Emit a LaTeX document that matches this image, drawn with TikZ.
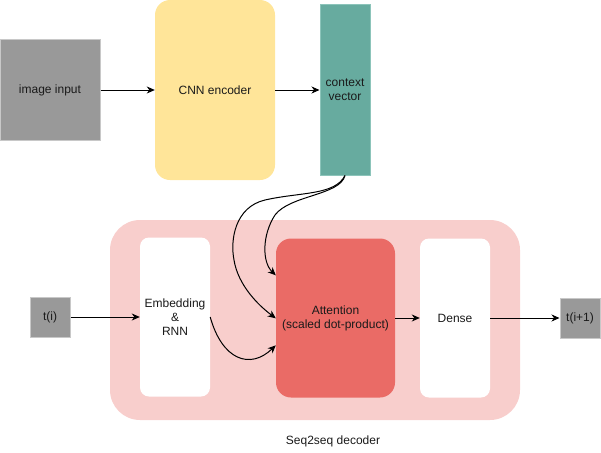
\documentclass[tikz,border=0pt]{standalone}
\usepackage{fontspec}
\setmainfont{Liberation Sans}
\usetikzlibrary{arrows.meta,calc}
\definecolor{boxgray}{HTML}{999999}
\definecolor{graystroke}{HTML}{C8C8C8}
\definecolor{cnnyellow}{HTML}{FFE599}
\definecolor{cvteal}{HTML}{67AB9F}
\definecolor{cvstroke}{HTML}{8CC4BA}
\definecolor{decpink}{HTML}{F8CECC}
\definecolor{attred}{HTML}{EA6B66}
\definecolor{txt}{HTML}{1A1A1A}
\tikzset{
  every node/.style={font=\fontsize{12pt}{14pt}\selectfont, text=txt, inner sep=0pt, align=center},
  graybox/.style={fill=boxgray, draw=graystroke, line width=1pt},
  conn/.style={line width=1pt, -{Stealth[length=8pt,width=7pt,inset=2.5pt]}},
}
\begin{document}
\begin{tikzpicture}[x=1pt,y=-1pt]
\useasboundingbox (0,0) rectangle (601,452);
% decoder background
\node[fill=decpink, rounded corners=30pt, minimum width=410pt, minimum height=200pt] (dec) at (315,320) {};
\node (declbl) at (333,441) {Seq2seq decoder};
% encoder part
\node[graybox, minimum width=100pt, minimum height=100pt] (img) at (50,90) {image input};
\node[fill=cnnyellow, rounded corners=15pt, minimum width=120pt, minimum height=180pt] (cnn) at (215,90) {CNN encoder};
\node[fill=cvteal, draw=cvstroke, line width=1pt, minimum width=50pt, minimum height=170pt] (cv) at (345,90) {context\\vector};
% decoder internals
\node[fill=white, rounded corners=9pt, minimum width=70pt, minimum height=159pt] (emb) at (175,317) {Embedding\\\&\\RNN};
\node[fill=attred, rounded corners=15pt, minimum width=119pt, minimum height=159pt] (att) at (335.5,318) {Attention\\(scaled dot-product)};
\node[fill=white, rounded corners=9pt, minimum width=70pt, minimum height=159pt] (dense) at (455,318) {Dense};
\node[graybox, minimum width=40pt, minimum height=40pt] (ti) at (50,317) {t(i)};
\node[graybox, minimum width=40pt, minimum height=40pt] (to) at (580,318) {t(i+1)};
% connectors
\draw[conn] (img.east) -- (cnn.west);
\draw[conn] (cnn.east) -- (cv.west);
\draw[conn] (ti.east) -- (emb.west |- ti.east);
\draw[conn] (att.east) -- (dense.west);
\draw[conn] (dense.east) -- (to.west);
\draw[conn] (cv.south) .. controls ($(cv.south)+(-5,20)$) and (290,195) .. (275,215)
   .. controls (262,235) and (262,262) .. ($(att.north west)+(0,37)$);
\draw[conn] (cv.south) .. controls ($(cv.south)+(-10,20)$) and (300,192) .. (265,200)
   .. controls (235,207) and (230,240) .. (234,260)
   .. controls (238,285) and (258,305) .. ($(att.north west)+(0,80)$);
\draw[conn] (emb.east) .. controls ($(emb.east)+(12,43)$) and (250,370) .. ($(att.north west)+(0,107)$);
\end{tikzpicture}
\end{document}
